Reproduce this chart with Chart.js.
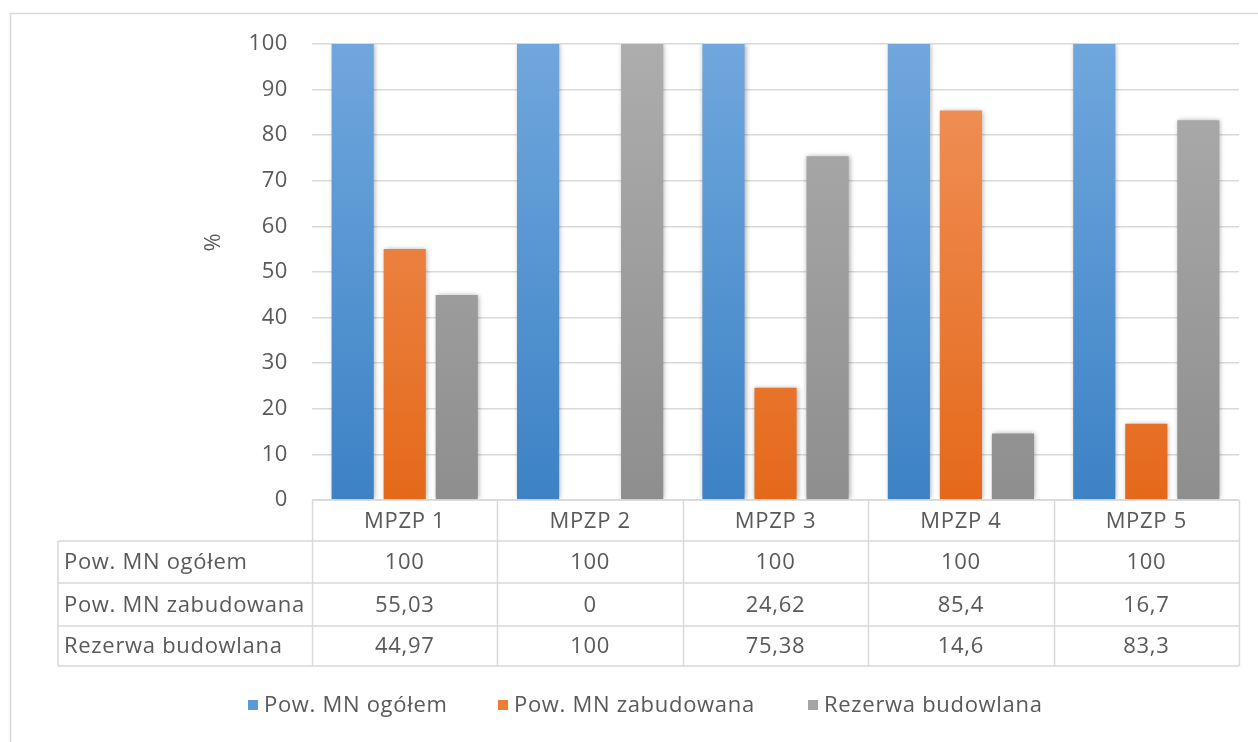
<!DOCTYPE html>
<html>
<head>
<meta charset="utf-8">
<script src="https://cdn.jsdelivr.net/npm/chart.js@4/dist/chart.umd.min.js"></script>
<style>
  html, body { margin: 0; padding: 0; background: #fff; }
  #wrap { width: 1258px; height: 742px; }
</style>
</head>
<body>
<div id="wrap"><canvas id="chart"></canvas></div>
<script>
const categories = ["MPZP 1", "MPZP 2", "MPZP 3", "MPZP 4", "MPZP 5"];
const seriesNames = ["Pow. MN ogółem", "Pow. MN zabudowana", "Rezerwa budowlana"];
const ogolem = [100, 100, 100, 100, 100];
const zabudowana = [55.03, 0, 24.62, 85.4, 16.7];
const rezerwa = [44.97, 100, 75.38, 14.6, 83.3];
const yMin = 0, yMax = 100, yStep = 10;
const yTitle = "%";

const FONT = "Open Sans";
const TEXT = "#595959";
const LINE = "#d9d9d9";

// top / bottom colours of each bar gradient, and the flat legend colour
const shades = [
    { top: "#70a7dd", bottom: "#3c82c5", flat: "#5b9bd5" },
    { top: "#f1935d", bottom: "#e4691a", flat: "#ed7d31" },
    { top: "#adadad", bottom: "#8e8e8e", flat: "#a5a5a5" }
];

function gradient(i) {
    return function (context) {
        const area = context.chart.chartArea;
        if (!area) return shades[i].flat;
        const g = context.chart.ctx.createLinearGradient(0, area.top, 0, area.bottom);
        g.addColorStop(0, shades[i].top);
        g.addColorStop(1, shades[i].bottom);
        return g;
    };
}

const fmt = v => String(v).replace(".", ",");

// soft shadow behind the bars
const shadowPlugin = {
    id: "barShadow",
    beforeDatasetsDraw(chart) {
        const ctx = chart.ctx;
        ctx.save();
        ctx.shadowColor = "rgba(0,0,0,0.35)";
        ctx.shadowBlur = 5;
        ctx.shadowOffsetX = 1;
        ctx.shadowOffsetY = 0;
    },
    afterDatasetsDraw(chart) {
        chart.ctx.restore();
    }
};

// outer frame, axis title, data table and legend
const tablePlugin = {
    id: "dataTable",
    beforeDraw(chart) {
        const ctx = chart.ctx;
        ctx.save();
        ctx.strokeStyle = LINE;
        ctx.lineWidth = 1.5;
        ctx.strokeRect(10.5, 13.5, chart.width + 20, chart.height + 20);
        ctx.restore();
        ctx.letterSpacing = "0.6px";
    },
    afterDraw(chart) {
        const ctx = chart.ctx;
        const area = chart.chartArea;
        const x = chart.scales.x;
        const step = (area.right - area.left) / categories.length;
        const rowTops = [area.bottom, area.bottom + 41, area.bottom + 83, area.bottom + 126, area.bottom + 166];
        const tableLeft = 58;
        const series = chart.data.datasets;

        ctx.save();
        ctx.strokeStyle = LINE;
        ctx.lineWidth = 1.5;
        ctx.beginPath();
        // header row lines (only over the category columns)
        ctx.moveTo(area.left, rowTops[0]);
        ctx.lineTo(area.right, rowTops[0]);
        for (let r = 1; r < rowTops.length; r++) {
            ctx.moveTo(tableLeft, rowTops[r]);
            ctx.lineTo(area.right, rowTops[r]);
        }
        // verticals
        ctx.moveTo(tableLeft, rowTops[1]);
        ctx.lineTo(tableLeft, rowTops[4]);
        for (let c = 0; c <= categories.length; c++) {
            const px = Math.round(area.left + c * step) + 0.5;
            ctx.moveTo(px, rowTops[0]);
            ctx.lineTo(px, rowTops[4]);
        }
        ctx.stroke();

        ctx.fillStyle = TEXT;
        ctx.letterSpacing = "0.7px";
        ctx.font = "22px '" + FONT + "'";
        ctx.textBaseline = "middle";
        ctx.textAlign = "center";
        categories.forEach((c, i) => {
            ctx.fillText(c, x.getPixelForValue(i), (rowTops[0] + rowTops[1]) / 2 + 1);
        });
        series.forEach((ds, r) => {
            const cy = (rowTops[r + 1] + rowTops[r + 2]) / 2 + 1;
            ctx.textAlign = "left";
            ctx.fillText(ds.label, tableLeft + 6, cy);
            ctx.textAlign = "center";
            ds.data.forEach((v, i) => ctx.fillText(fmt(v), x.getPixelForValue(i), cy));
        });

        // axis title
        ctx.save();
        ctx.translate(214, (area.top + area.bottom) / 2 - 30);
        ctx.rotate(-Math.PI / 2);
        ctx.textAlign = "center";
        ctx.fillText(yTitle, 0, 0);
        ctx.restore();

        // legend
        const legendY = 705;
        const legendX = [248, 498, 808];
        series.forEach((ds, i) => {
            ctx.fillStyle = shades[i].flat;
            ctx.fillRect(legendX[i], legendY - 5, 10, 10);
            ctx.fillStyle = TEXT;
            ctx.textAlign = "left";
            ctx.fillText(ds.label, legendX[i] + 16, legendY + 1);
        });
        ctx.restore();
    }
};

new Chart(document.getElementById("chart"), {
    type: "bar",
    data: {
        labels: categories,
        datasets: [
            { label: seriesNames[0], data: ogolem, backgroundColor: gradient(0) },
            { label: seriesNames[1], data: zabudowana, backgroundColor: gradient(1) },
            { label: seriesNames[2], data: rezerwa, backgroundColor: gradient(2) }
        ]
    },
    options: {
        responsive: true,
        maintainAspectRatio: false,
        animation: false,
        layout: { padding: { left: 0, right: 19, top: 44, bottom: 242 } },
        datasets: { bar: { categoryPercentage: 0.842, barPercentage: 0.81 } },
        plugins: {
            legend: { display: false },
            tooltip: { enabled: false }
        },
        scales: {
            x: { display: false },
            y: {
                min: yMin,
                max: yMax,
                afterFit(scale) { scale.width = 312; },
                ticks: {
                    stepSize: yStep,
                    padding: 24,
                    color: TEXT,
                    font: { family: FONT, size: 22 }
                },
                grid: { color: LINE, lineWidth: 1.5, drawTicks: false },
                border: { display: false }
            }
        }
    },
    plugins: [shadowPlugin, tablePlugin]
});
</script>
</body>
</html>
